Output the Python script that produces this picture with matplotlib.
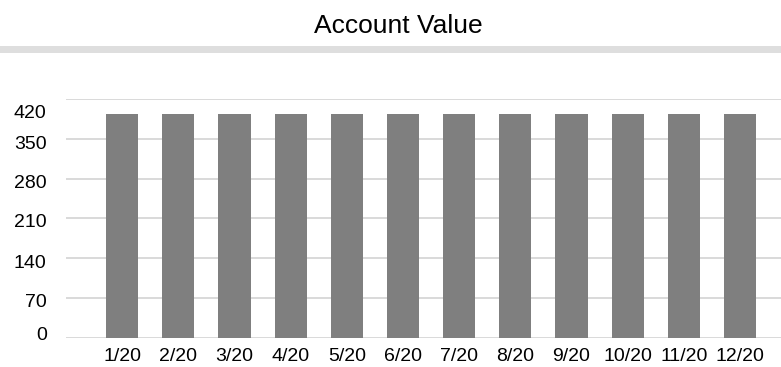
import matplotlib
matplotlib.use("Agg")
import matplotlib.pyplot as plt
from matplotlib.patches import Rectangle
from matplotlib.transforms import ScaledTranslation

# Monthly account value
months = ["1/20", "2/20", "3/20", "4/20", "5/20", "6/20",
          "7/20", "8/20", "9/20", "10/20", "11/20", "12/20"]
values = [393, 393, 393, 393, 393, 393, 393, 393, 393, 393, 393, 393]
y_ticks = [0, 70, 140, 210, 280, 350, 420]

# per-label vertical nudges (pixels, positive = down)
y_label_nudge = [-4.5, 2.5, 3.0, 2.4, 2.7, 3.5, 13.0]

plt.rcParams["font.family"] = ["Liberation Sans", "DejaVu Sans"]

W, H, DPI = 781, 367, 100
fig = plt.figure(figsize=(W / DPI, H / DPI), dpi=DPI)

# grey band under the title
fig.patches.append(Rectangle((0, 1 - 52.7 / H), 1, 6.7 / H,
                             transform=fig.transFigure, color="#dedede",
                             zorder=0, linewidth=0))
fig.text(398 / W, 1 - 33 / H, "Account Value", ha="center", va="baseline",
         fontsize=19, color="#000000")

left, right = 66 / W, 1.0
bottom, top = 1 - 337.7 / H, 1 - 99 / H
ax = fig.add_axes([left, bottom, right - left, top - bottom])

x = list(range(len(months)))
ax.bar(x, values, width=0.57, color="#7f7f7f", zorder=2)

ax.set_xlim(-1.0, 11.73)
ax.set_ylim(0, 420)
ax.set_yticks(y_ticks)
ax.set_yticklabels([str(v) for v in y_ticks])
ax.set_xticks(x)
ax.set_xticklabels(months)

ax.grid(axis="y", color="#d9d9d9", linewidth=1.4, zorder=0)
ax.set_axisbelow(True)
for s in ax.spines.values():
    s.set_visible(False)

ax.tick_params(axis="both", length=0, labelsize=14, colors="#000000")
ax.tick_params(axis="y", pad=13.9)
ax.tick_params(axis="x", pad=7.2)

for lab, dy in zip(ax.get_yticklabels(), y_label_nudge):
    lab.set_transform(lab.get_transform() +
                      ScaledTranslation(0, -dy / DPI, fig.dpi_scale_trans))

fig.savefig("out.png", dpi=DPI)
